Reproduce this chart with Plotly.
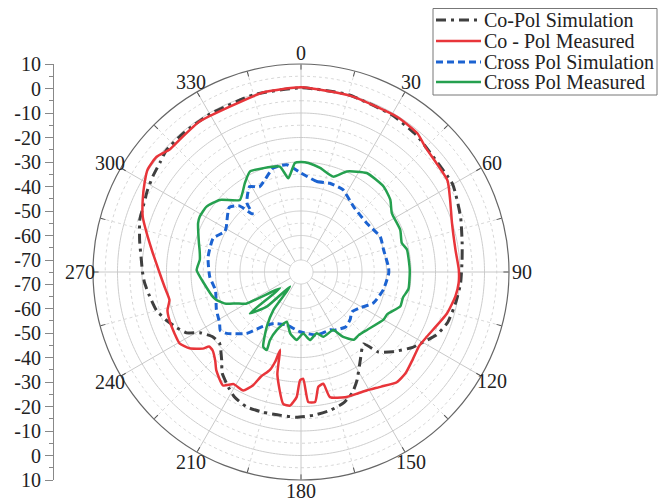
import plotly.graph_objects as go
import numpy as np

# ---------------- data (dB vs angle in degrees, clockwise from top) ----------------
co_sim_theta = [0, 15, 30, 40, 47, 60, 71, 80, 86, 94, 101, 109, 115, 120, 124, 131, 136, 139,
                146, 152.6, 157, 162, 168, 175, 182, 188, 195, 202, 208, 212, 218, 222, 229,
                234, 239, 242, 246, 250, 255, 261, 266, 270, 274, 281, 288, 291, 298, 303,
                308, 312, 320, 330, 345, 360]
co_sim_r = [0.3, 0.0, -0.8, -1.8, -3.1, -3.4, -6.0, -8.1, -9.0, -9.6, -10.5, -11.6, -14.0, -17.5,
            -19.9, -25.3, -29.5, -36.0, -31.6, -25.2, -21.3, -18.7, -17.2, -16.2, -15.6, -15.8,
            -15.6, -15.5, -17.1, -19.2, -22.6, -26.5, -30.8, -30.1, -26.8, -22.0, -19.2, -16.7,
            -13.9, -12.3, -10.9, -10.2, -9.6, -7.8, -5.7, -5.4, -3.9, -2.9, -2.0, -0.8, -0.6,
            -0.5, 0.0, 0.3]

co_meas_theta = [0, 16, 32, 40, 45, 58, 64, 72, 82, 89, 94, 99, 106, 117, 122, 128, 134, 139,
                 145, 151, 155, 160.6, 167, 168.7, 171.4, 173.8, 176.8, 178.8, 180.5, 182,
                 184.7, 187.7, 193, 195, 196, 197.6, 201, 203, 206, 211, 214.5, 220.7, 224,
                 228.5, 231, 232, 235.6, 239.6, 244, 250, 254, 258, 263.7, 269.6, 277.3, 284.2,
                 289.2, 294.5, 299.7, 303.7, 308.6, 313, 317.5, 326, 336.7, 348, 360]
co_meas_r = [0.5, -0.2, -0.4, -1.0, -3.0, -4.4, -7.2, -10.1, -11.2, -10.5, -10.4, -11.1, -13.0,
             -17.1, -18.0, -17.0, -15.5, -15.3, -17.8, -19.6, -20.2, -20.7, -22.5, -28.4, -27.5,
             -21.5, -21.7, -31.3, -30.7, -23.8, -20.2, -20.6, -32.0, -42.0, -37.0, -33.0,
             -29.1, -24.6, -21.1, -21.5, -18.7, -21.9, -24.5, -26.7, -26.6, -24.1, -19.8,
             -17.4, -17.5, -17.7, -18.2, -20.0, -18.9, -17.2, -13.9, -9.9, -6.5, -3.9, -1.4,
             0.4, 0.5, -1.6, -1.6, -0.8, -1.4, 0.0, 0.5]

cross_sim_theta = [0, 10, 18, 27, 39, 53, 66, 75, 87, 91, 102, 113, 122, 128, 134, 141, 150,
                   153, 166, 181, 195, 208, 215, 221.5, 230.5, 234, 238, 246, 258, 267, 279,
                   291, 298, 301, 312, 317, 320, 322, 329, 334, 345, 352.4, 360]
cross_sim_r = [-34.5, -37.4, -36.8, -37.2, -40.7, -41.5, -39.5, -40.0, -39.1, -39.1, -40.5,
               -42.7, -47.0, -48.5, -47.0, -46.0, -47.5, -48.4, -48.4, -50.5, -52.5, -51.1,
               -47.8, -41.4, -35.5, -34.2, -35.7, -37.1, -39.2, -37.6, -36.5, -36.5, -39.7,
               -39.3, -35.5, -38.0, -44.0, -39.0, -34.2, -36.2, -31.0, -30.7, -34.5]

cross_meas_theta = [0, 3.9, 10.4, 18.7, 24.5, 33.6, 44, 51, 57, 67, 74, 78, 89, 99, 104, 109,
                    116, 120, 131, 137.6, 142, 147, 151, 161, 165.6, 172.5, 178, 183.6, 190,
                    196, 202.7, 204.5, 203.7, 206.8, 212, 216, 216.8, 224.7, 231, 232.2, 240,
                    244, 247, 251.6, 254, 263.4, 271, 277, 282, 285.8, 295.4, 298.7, 304.7,
                    311.6, 319.7, 327.7, 333, 340, 348.7, 352.3, 356.8, 360]
cross_meas_r = [-30.0, -30.3, -31.7, -33.8, -29.8, -26.4, -26.4, -28.0, -30.7, -30.9, -32.1,
                -30.7, -30.5, -30.5, -32.0, -32.0, -35.7, -36.0, -39.0, -40.0, -39.8, -43.3,
                -47.8, -46.9, -49.1, -46.9, -49.8, -47.1, -49.5, -53.8, -49.2, -44.3, -40.1,
                -40.7, -48.5, -55.7, -67.5, -55.0, -48.0, -64.1, -49.0, -45.6, -41.7, -38.6,
                -37.6, -35.0, -32.3, -33.3, -32.6, -31.6, -28.4, -27.8, -28.0, -30.6, -36.3,
                -32.0, -28.9, -29.8, -31.0, -36.3, -30.3, -30.0]

series_names = ["Co-Pol Simulation", "Co - Pol Measured", "Cross Pol Simulation", "Cross Pol Measured"]
series_colors = ["#3f3f3f", "#e8353a", "#1c63d1", "#25a04f"]
series_dash = ["10px,5px,3px,5px", "solid", "7px,4px", "solid"]
series_width = [3, 2.5, 3, 2.5]

angle_ticks = list(range(0, 360, 30))
angle_labels = ["0", "30", "60", "90", "120", "150", "180", "210", "240", "270", "300", "330"]
left_labels_upper = [10, 0, -10, -20, -30, -40, -50, -60, -70]

R_IN, R_MAX = -70, 10          # innermost drawn ring and outer ring (dB)
PX_PER_DB = (208 - 12) / 80.0
R_CENTER = R_IN - 12 / PX_PER_DB   # value at the exact centre (empty hole area)
FONT = "Liberation Serif, Times New Roman, serif"

# page offset of the plot inside the browser (body margin)
OFF = 8
W, H = 672, 504
def SX(px):
    return (px - OFF) / W
def SY(py):
    return 1 - (py - OFF) / H

fig = go.Figure()

# ---------------- grid decorations ----------------
circ = np.linspace(0, 360, 361)
for lvl in range(-65, 10, 10):  # dotted rings at 5 dB offsets
    fig.add_trace(go.Scatterpolar(r=[lvl] * len(circ), theta=circ, mode="lines",
                                  line=dict(color="#d6d6d6", width=1, dash="dot"),
                                  hoverinfo="skip", showlegend=False))
for lvl in range(-70, 10, 10):  # solid rings
    fig.add_trace(go.Scatterpolar(r=[lvl] * len(circ), theta=circ, mode="lines",
                                  line=dict(color="#cdcdcd", width=1),
                                  hoverinfo="skip", showlegend=False))
for a in angle_ticks:
    fig.add_trace(go.Scatterpolar(r=[R_IN, R_MAX], theta=[a, a], mode="lines",
                                  line=dict(color="#c8c8c8", width=1),
                                  hoverinfo="skip", showlegend=False))
for a in range(15, 360, 30):
    fig.add_trace(go.Scatterpolar(r=[-60, R_MAX], theta=[a, a], mode="lines",
                                  line=dict(color="#d8d8d8", width=1, dash="dot"),
                                  hoverinfo="skip", showlegend=False))

# ---------------- data traces ----------------
all_theta = [co_sim_theta, co_meas_theta, cross_sim_theta, cross_meas_theta]
all_r = [co_sim_r, co_meas_r, cross_sim_r, cross_meas_r]
for i in range(4):
    fig.add_trace(go.Scatterpolar(r=all_r[i], theta=all_theta[i], mode="lines", name=series_names[i],
                                  line=dict(color=series_colors[i], width=series_width[i],
                                            dash=series_dash[i], shape="spline", smoothing=0.5),
                                  showlegend=False))

# ---------------- left mirrored dB axis ----------------
def frac(v):
    return (v - R_CENTER) / (R_MAX - R_CENTER)

tickvals = [frac(v) for v in left_labels_upper] + [-frac(v) for v in left_labels_upper]
ticktext = [str(v) for v in left_labels_upper] * 2
minor_vals = ([frac(v + 5) for v in left_labels_upper[1:]] +
              [-frac(v + 5) for v in left_labels_upper[1:]] + [0])

fig.add_trace(go.Scatter(x=[0], y=[0], mode="markers", marker=dict(opacity=0),
                         hoverinfo="skip", showlegend=False, xaxis="x", yaxis="y"))

CX, CY, RAD = 301, 272, 208
pol_x = [SX(CX - RAD), SX(CX + RAD)]
pol_y = [SY(CY + RAD), SY(CY - RAD)]

shapes = []
annotations = []

# angular labels placed just outside the outer ring
LABEL_R = RAD + 11
for a, txt in zip(angle_ticks, angle_labels):
    t = np.deg2rad(a)
    extra = 2 * abs(np.sin(t))
    px = CX + (LABEL_R + extra) * np.sin(t)
    py = CY - (LABEL_R) * np.cos(t)
    annotations.append(dict(xref="paper", yref="paper", x=SX(px), y=SY(py),
                            xanchor="center", yanchor="middle", showarrow=False, text=txt,
                            font=dict(family=FONT, size=20, color="#222222")))

# ---------------- legend (box, samples, labels) ----------------
shapes.append(dict(type="rect", xref="paper", yref="paper",
                   x0=SX(433), x1=SX(657), y0=SY(95), y1=SY(8.5),
                   line=dict(color="#777777", width=1), fillcolor="white", layer="above"))
row_y = [20, 41, 62, 82]
for i in range(4):
    shapes.append(dict(type="line", xref="paper", yref="paper",
                       x0=SX(436), x1=SX(481), y0=SY(row_y[i]), y1=SY(row_y[i]),
                       line=dict(color=series_colors[i], width=series_width[i], dash=series_dash[i]),
                       layer="above"))
    annotations.append(dict(xref="paper", yref="paper", x=SX(482), y=SY(row_y[i]),
                            xanchor="left", yanchor="middle", showarrow=False,
                            text=series_names[i],
                            font=dict(family=FONT, size=20, color="#222222")))

fig.update_layout(
    width=W, height=H,
    margin=dict(l=0, r=0, t=0, b=0, autoexpand=False),
    paper_bgcolor="white", plot_bgcolor="white",
    font=dict(family=FONT, color="#222222", size=20),
    showlegend=False,
    polar=dict(
        domain=dict(x=pol_x, y=pol_y),
        bgcolor="white",
        radialaxis=dict(range=[R_CENTER, R_MAX], showgrid=False, showline=False,
                        showticklabels=False, ticks=""),
        angularaxis=dict(rotation=90, direction="clockwise",
                         tickmode="array", tickvals=list(range(0, 360, 15)),
                         showticklabels=False,
                         ticks="inside", ticklen=5, tickcolor="#555555",
                         showgrid=False, showline=True, linecolor="#666666", linewidth=1.2),
    ),
    xaxis=dict(domain=[0, 0.02], visible=False, range=[-1, 1]),
    yaxis=dict(domain=pol_y, range=[-1, 1], anchor="free", position=SX(53), side="left",
               automargin=False,
               tickmode="array", tickvals=tickvals, ticktext=ticktext,
               ticks="outside", ticklen=8, tickcolor="#888888", tickwidth=1,
               showline=True, linecolor="#888888", linewidth=1,
               showgrid=False, zeroline=False,
               tickfont=dict(family=FONT, size=20, color="#222222"),
               minor=dict(tickmode="array", tickvals=minor_vals, ticks="outside", ticklen=4,
                          tickcolor="#888888", showgrid=False)),
    shapes=shapes,
    annotations=annotations,
)

fig.write_html("out.html")
